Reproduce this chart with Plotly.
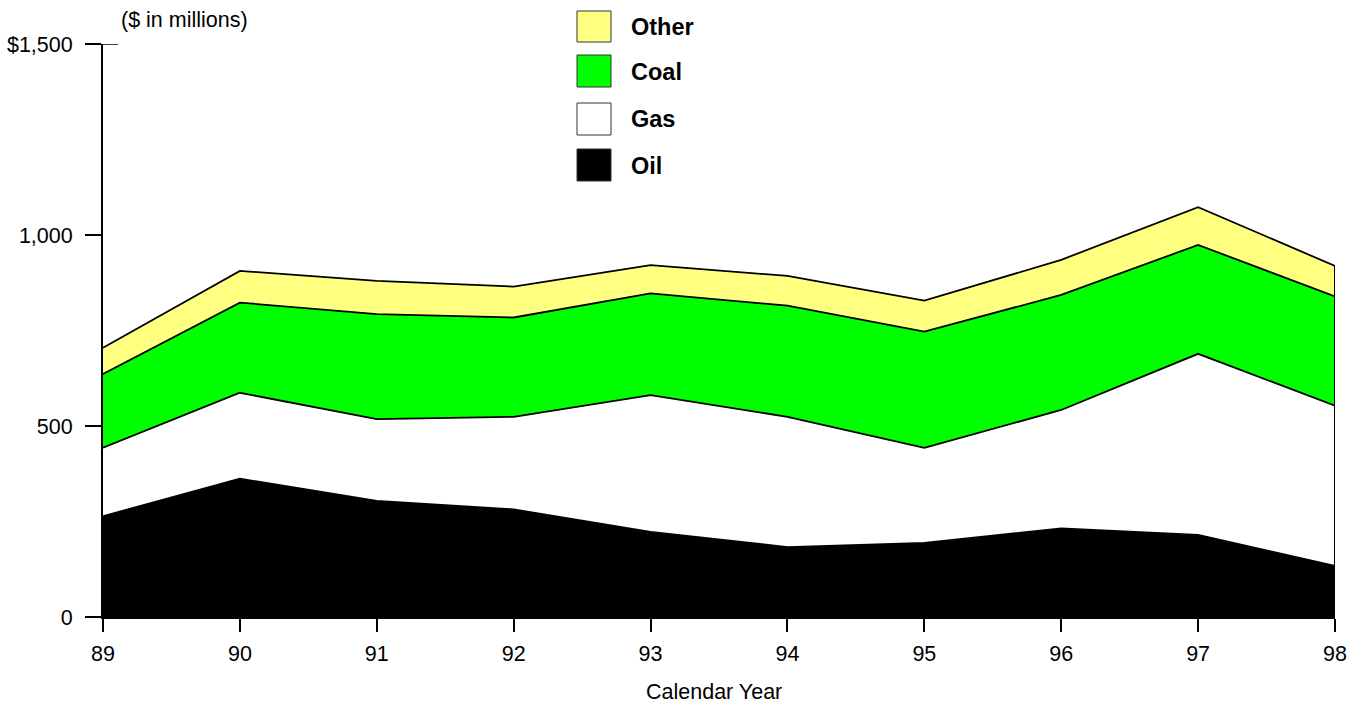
import plotly.graph_objects as go

# Calendar years (two-digit) and their tick labels
years = [89, 90, 91, 92, 93, 94, 95, 96, 97, 98]
year_labels = ["89", "90", "91", "92", "93", "94", "95", "96", "97", "98"]

# Annual values by fuel, $ in millions
oil = [264, 362, 304, 282, 223, 183, 194, 232, 215, 134]
gas = [179, 225, 214, 242, 358, 341, 249, 310, 474, 419]
coal = [193, 236, 275, 260, 266, 291, 304, 301, 285, 286]
other = [69, 83, 87, 81, 74, 78, 81, 92, 99, 80]

series_names = ["Oil", "Gas", "Coal", "Other"]
series_values = [oil, gas, coal, other]
series_colors = ["#000000", "#FFFFFF", "#00FF00", "#FFFF80"]

y_tick_values = [0, 500, 1000, 1500]
y_tick_labels = ["0", "500", "1,000", "$1,500"]

FONT = "Arial, 'Liberation Sans', sans-serif"
TXT = 21.5

# Plot-area geometry in pixels (used to place the legend and titles)
W, H = 1358, 706
M_L, M_R, M_T, M_B = 103, 23, 44, 89
PW, PH = W - M_L - M_R, H - M_T - M_B


def px(x):
    return (x - M_L) / PW


def py(y):
    return (H - M_B - y) / PH


fig = go.Figure()

for name, vals, col in zip(series_names, series_values, series_colors):
    fig.add_trace(go.Scatter(
        x=years, y=vals, name=name, mode="lines",
        stackgroup="fuel", fillcolor=col,
        line=dict(color="#000000", width=1.8),
        showlegend=False, hoverinfo="skip",
    ))

# Closing edge at the last year
totals = [sum(v) for v in zip(*series_values)]
fig.add_trace(go.Scatter(
    x=[years[-1], years[-1]], y=[0, totals[-1]], mode="lines",
    line=dict(color="#000000", width=2), showlegend=False, hoverinfo="skip",
))

shapes = []
annotations = []

# Inner part of the top tick on the value axis
shapes.append(dict(type="line", xref="paper", yref="y",
                   x0=0, x1=px(118), y0=1500, y1=1500,
                   line=dict(color="#000000", width=1.5)))

# Legend: boxes with bold labels, top item first
legend_rows = [("Other", "#FFFF80", 11, 42), ("Coal", "#00FF00", 55, 87),
               ("Gas", "#FFFFFF", 103, 135), ("Oil", "#000000", 149, 181)]
for label, col, top, bot in legend_rows:
    shapes.append(dict(type="rect", xref="paper", yref="paper",
                       x0=px(577), x1=px(611), y0=py(bot), y1=py(top),
                       fillcolor=col, line=dict(color="#333333", width=1)))
    annotations.append(dict(xref="paper", yref="paper",
                            x=px(629), y=py((top + bot) / 2 + 0.5),
                            xanchor="left", yanchor="middle", showarrow=False,
                            text="<b>%s</b>" % label,
                            font=dict(family=FONT, size=23.5, color="#000000")))

annotations.append(dict(xref="paper", yref="paper", x=px(119), y=py(20),
                        xanchor="left", yanchor="middle", showarrow=False,
                        text="($ in millions)",
                        font=dict(family=FONT, size=TXT, color="#000000")))
annotations.append(dict(xref="paper", yref="paper", x=px(714), y=py(692),
                        xanchor="center", yanchor="middle", showarrow=False,
                        text="Calendar Year",
                        font=dict(family=FONT, size=TXT, color="#000000")))

fig.update_layout(
    width=W, height=H,
    margin=dict(l=M_L, r=M_R, t=M_T, b=M_B),
    paper_bgcolor="#FFFFFF", plot_bgcolor="#FFFFFF",
    font=dict(family=FONT, size=TXT, color="#000000"),
    shapes=shapes, annotations=annotations,
    showlegend=False,
)

fig.update_xaxes(
    range=[years[0], years[-1]], tickvals=years, ticktext=year_labels,
    showgrid=False, zeroline=False, automargin=False,
    showline=True, linecolor="#000000", linewidth=2,
    ticks="outside", ticklen=13, tickwidth=2, tickcolor="#000000",
    ticklabelstandoff=3,
    tickfont=dict(family=FONT, size=TXT, color="#000000"),
)
fig.update_yaxes(
    range=[0, 1500], tickvals=y_tick_values, ticktext=y_tick_labels,
    showgrid=False, zeroline=False, automargin=False,
    showline=True, linecolor="#000000", linewidth=2,
    ticks="outside", ticklen=16, tickwidth=1.5, tickcolor="#000000",
    ticklabelstandoff=8,
    tickfont=dict(family=FONT, size=TXT, color="#000000"),
)

fig.write_html("out.html")
